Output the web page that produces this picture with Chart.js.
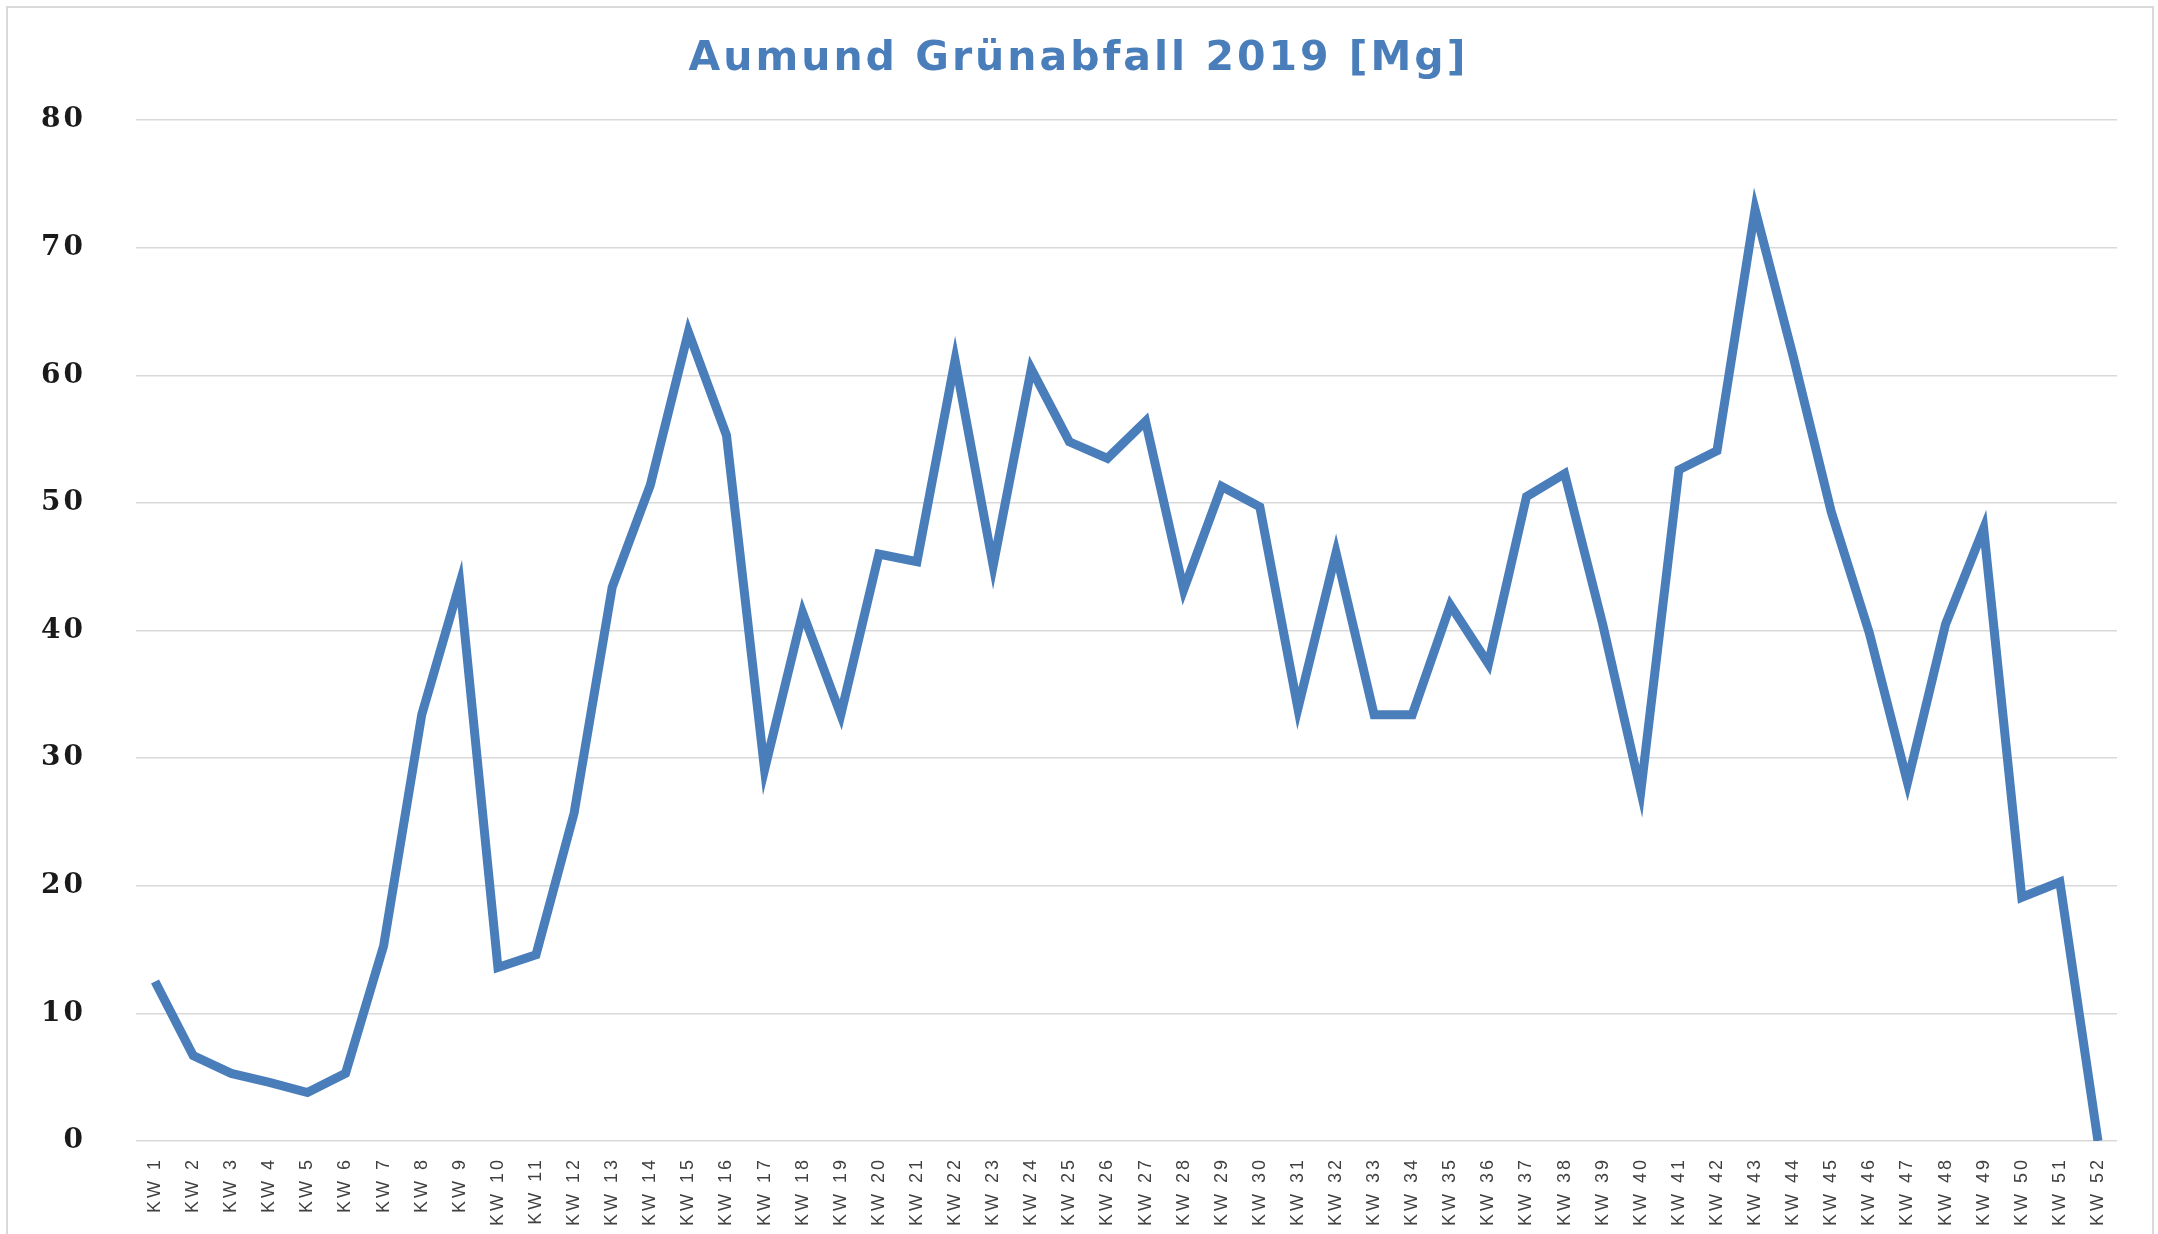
<!DOCTYPE html>
<html>
<head>
<meta charset="utf-8">
<script src="https://cdn.jsdelivr.net/npm/chart.js@4/dist/chart.umd.min.js"></script>
<style>
  html,body{margin:0;padding:0;background:#fff;}
  #wrap{position:relative;width:2158px;height:1234px;}
  #frame{position:absolute;left:6px;top:6px;width:2148px;height:1240px;border:2px solid #d9d9d9;box-sizing:border-box;}
  canvas{position:absolute;left:0;top:0;}
</style>
</head>
<body>
<div id="wrap">
  <div id="frame"></div>
  <canvas id="c" width="2158" height="1234"></canvas>
</div>
<script>
const WEEKS = [];
for(let i=1;i<=52;i++) WEEKS.push("KW "+i);

const GRUENABFALL = [
  12.5, 6.7, 5.3, 4.6, 3.8, 5.3, 15.3, 33.4, 43.7, 13.6,
  14.6, 25.7, 43.4, 51.4, 63.4, 55.3, 29.1, 41.4, 33.4, 46.0,
  45.4, 61.2, 45.1, 60.5, 54.8, 53.5, 56.4, 43.2, 51.3, 49.7,
  33.9, 46.1, 33.4, 33.4, 42.0, 37.4, 50.5, 52.3, 40.5, 27.4,
  52.6, 54.1, 73.0, 61.5, 49.3, 39.8, 28.1, 40.5, 48.0, 19.1,
  20.3, 0
];

const Y_MIN = 0, Y_MAX = 80, Y_STEP = 10;

// the original text is drawn wide, so spread the letters a bit
const spacing = {
  id: "spacing",
  beforeDraw(chart){ chart.ctx.letterSpacing = "3px"; },
  afterDraw(chart){ chart.ctx.letterSpacing = "0px"; }
};

const ctx = document.getElementById("c").getContext("2d");
new Chart(ctx, {
  type: "line",
  data: {
    labels: WEEKS,
    datasets: [{
      data: GRUENABFALL,
      borderColor: "#4a7ebb",
      borderWidth: 9,
      pointRadius: 0,
      tension: 0,
      fill: false
    }]
  },
  plugins: [spacing],
  options: {
    responsive: false,
    animation: false,
    layout: { padding: { left: 40, right: 41, top: 0, bottom: 0 } },
    plugins: {
      legend: { display: false },
      tooltip: { enabled: false },
      title: {
        display: true,
        text: "Aumund Grünabfall 2019 [Mg]",
        color: "#4a7ebb",
        font: { family: "'DejaVu Sans'", size: 41, weight: "bold" },
        padding: { top: 35, bottom: 36 }
      }
    },
    scales: {
      x: {
        offset: true,
        grid: { display: false, drawTicks: false },
        border: { display: false },
        ticks: {
          autoSkip: false, minRotation: 90, maxRotation: 90,
          color: "#404040", padding: 16,
          font: { family: "'Liberation Sans'", size: 18 }
        },
        afterFit: s => { s.height = 93; }
      },
      y: {
        min: Y_MIN, max: Y_MAX,
        grid: { color: "#d9d9d9", lineWidth: 1.5, drawTicks: false },
        border: { display: false },
        ticks: {
          stepSize: Y_STEP, color: "#1a1a1a", padding: 50,
          font: { family: "'DejaVu Serif'", size: 28, weight: "bold" }
        },
        afterFit: s => { s.width = 96; }
      }
    }
  }
});
</script>
</body>
</html>
